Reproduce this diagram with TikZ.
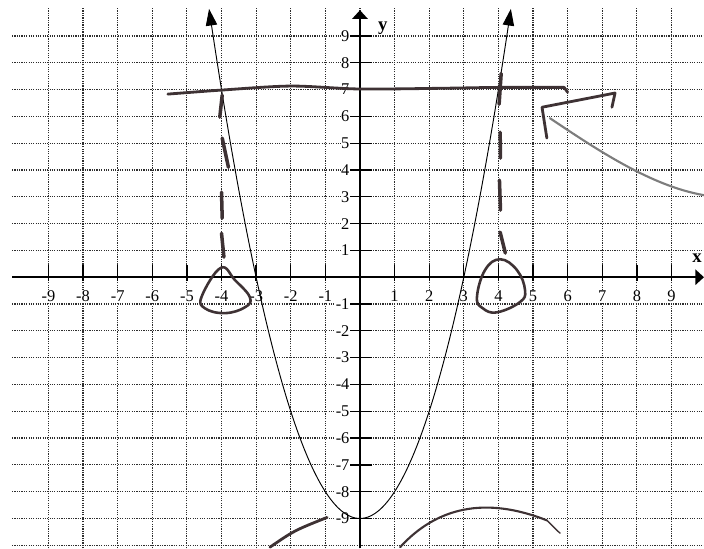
\documentclass[tikz,border=0pt]{standalone}
\usepackage{fontspec}
\setmainfont{Liberation Serif}
\usetikzlibrary{arrows.meta}
\definecolor{gridInk}{RGB}{45, 45, 45}
\definecolor{penInk}{RGB}{62, 50, 52}
\definecolor{pencilGray}{RGB}{125, 125, 125}

\begin{document}
\begin{tikzpicture}[x=1.038cm, y=0.804cm]

  % Page frame (keeps the scanned margins)
  \useasboundingbox (-10.40, -10.11) rectangle (9.94, 10.34);

  % Helper styles
  \tikzset{
    gridline/.style={gridInk, line width=1pt, dash pattern=on 1pt off 1pt},
    axisline/.style={black, line width=1.6pt},
    tickmark/.style={black, line width=1.1pt},
    numlabel/.style={font=\fontsize{14}{14}\selectfont, fill=white, inner sep=0.5pt},
    pen/.style={penInk, line width=2.4pt, line cap=round, line join=round}
  }

  % --- Dotted grid, one line per unit ---
  \foreach \x in {-9,...,9}
    \draw[gridline] (\x, -10.11) -- (\x, 10.04);
  \foreach \y in {-10,...,9}
    \draw[gridline] (-10.05, \y) -- (9.94, \y);

  % --- Axes ---
  \draw[axisline, -{Triangle[length=2.6mm, width=4.6mm]}] (-10.05, 0) -- (9.94, 0);
  \draw[axisline, -{Triangle[length=2.6mm, width=4.6mm]}] (0, -10.11) -- (0, 9.96);
  \node[font=\bfseries\fontsize{16}{16}\selectfont] (axisX) at (9.74, 0.72) {x};
  \node[font=\bfseries\fontsize{16}{16}\selectfont] (axisY) at (0.66, 9.3) {y};

  % Ticks and numbers on the x axis
  \foreach \x in {-9,...,-1,1,2,...,9} {
    \draw[tickmark] (\x, 0.45) -- (\x, -0.15);
    \node[numlabel] (lblx\x) at (\x, -0.7) {\x};
  }

  % Ticks and numbers on the y axis
  \foreach \y in {-9,...,-1,1,2,...,9} {
    \draw[tickmark] (-0.3, \y) -- (0.36, \y);
    \node[numlabel, anchor=east] (lbly\y) at (-0.28, \y) {\y};
  }

  % --- Parabola y = x^2 - 9 ---
  \draw[black, line width=0.8pt, {Triangle[length=5mm, width=3.4mm]}-{Triangle[length=5mm, width=3.4mm]}]
    plot[domain=-4.36:4.36, samples=90, smooth] (\x, {\x*\x - 9});

  % --- Pen marks ---
  % line y = 7
  \draw[pen] plot[smooth] coordinates {(-5.55, 6.83) (-4, 6.98) (-2, 7.13)
    (0, 7.02) (2.5, 7.05) (4, 7.08) (5.9, 7.08)} -- (6.0, 6.9);

  % dashes down from the two crossings
  \foreach \xa/\ya/\xb/\yb in {-3.98/6.79/-4.05/5.97, -3.98/5.19/-3.8/4.1,
                              -4.0/3.17/-3.98/2.2, -4.0/1.64/-3.93/0.75,
                              4.08/7.6/4.02/6.45, 4.05/5.41/4.06/4.44,
                              4.03/3.62/4.06/2.5, 4.05/1.68/4.2/0.9}
    \draw[pen, line width=3pt] (\xa, \ya) -- (\xb, \yb);

  % loops round -4 and 4
  \draw[pen, line width=2.2pt] plot[smooth cycle, tension=0.7] coordinates {(-4.02, 0.35)
    (-4.57, -0.71) (-4.48, -1.16) (-3.9, -1.34) (-3.32, -1.12) (-3.18, -0.75) (-3.61, -0.11)};
  \draw[pen, line width=2.2pt] plot[smooth cycle, tension=0.7] coordinates {(4.05, 0.67)
    (3.61, 0.26) (3.38, -0.75) (3.55, -1.16) (3.96, -1.31) (4.62, -0.93) (4.77, -0.49) (4.54, 0.26)};

  % hand drawn arrow on the right
  \draw[pencilGray, line width=1.8pt, line cap=round] (5.49, 5.93) .. controls (6.8, 4.8) and (8.4, 3.4) .. (9.94, 3.06);
  \draw[pen] (7.28, 6.34) -- (7.37, 6.87) -- (5.26, 6.34) -- (5.4, 5.19);

  % strokes near the bottom
  \draw[pen] (-2.6, -10.07) .. controls (-1.9, -9.45) .. (-0.95, -8.96);
  \draw[pen, line width=1.8pt] (1.16, -10.07) .. controls (2.2, -8.6) and (3.6, -8.15) .. (5.4, -9.07);
  \draw[pen, line width=1.2pt] (5.4, -9.07) -- (5.78, -9.55);

\end{tikzpicture}
\end{document}
